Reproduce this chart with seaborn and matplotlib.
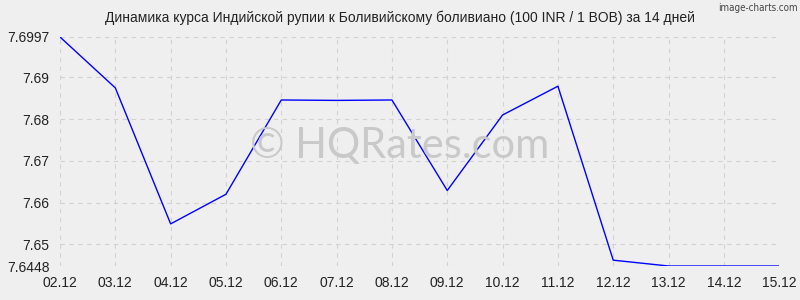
import matplotlib
matplotlib.use("Agg")
import matplotlib.pyplot as plt
import seaborn as sns
import pandas as pd

dates = ["02.12", "03.12", "04.12", "05.12", "06.12", "07.12", "08.12",
         "09.12", "10.12", "11.12", "12.12", "13.12", "14.12", "15.12"]
rates = [7.6997, 7.6875, 7.6549, 7.6620, 7.6846, 7.6845, 7.6846,
         7.6629, 7.6810, 7.6879, 7.6462, 7.6448, 7.6448, 7.6448]
ytick_values = [7.6448, 7.65, 7.66, 7.67, 7.68, 7.69, 7.6997]
ytick_labels = ["7.6448", "7.65", "7.66", "7.67", "7.68", "7.69", "7.6997"]
title = "Динамика курса Индийской рупии к Боливийскому боливиано (100 INR / 1 BOB) за 14 дней"

sns.set_theme(style="white")
plt.rcParams['font.family'] = ['Liberation Sans', 'DejaVu Sans']

df = pd.DataFrame({"idx": range(len(dates)), "rate": rates})

fig = plt.figure(figsize=(8, 3), dpi=100, facecolor="#efefef")
ax = fig.add_axes([0.075, 0.1133, 0.899, 0.7634])
ax.set_facecolor("#efefef")

fig.text(0.5, 0.513, "© HQRates.com", ha="center", va="center", fontsize=30, color="#c9c9c9",
         zorder=0, family=["Lato", "Liberation Sans"])

sns.lineplot(data=df, x="idx", y="rate", ax=ax, color="#0000ff", linewidth=1.0, zorder=3)

ax.set_xlim(0, len(dates) - 1)
ax.set_ylim(min(ytick_values), max(ytick_values))
ax.set_xticks(range(len(dates)))
ax.set_xticklabels(dates)
ax.set_yticks(ytick_values)
ax.set_yticklabels(ytick_labels)
ax.set_xlabel("")
ax.set_ylabel("")
ax.tick_params(axis="both", labelsize=10, colors="#222222", length=0)
ax.tick_params(axis="x", pad=7.5)
ax.tick_params(axis="y", pad=7.5)
ax.grid(True, linestyle=(0, (4, 4)), color="#d2d2d2", linewidth=0.8)
ax.patch.set_alpha(0)
for s in ax.spines.values():
    s.set_visible(False)

fig.text(0.5, 0.94, title, ha="center", va="center", fontsize=10, color="#222222")
fig.text(0.997, 0.99, "image-charts.com", ha="right", va="top", fontsize=7, color="#444444",
         family=["DejaVu Sans"], fontstretch="condensed")

fig.savefig("out.png", dpi=100, facecolor="#efefef")
